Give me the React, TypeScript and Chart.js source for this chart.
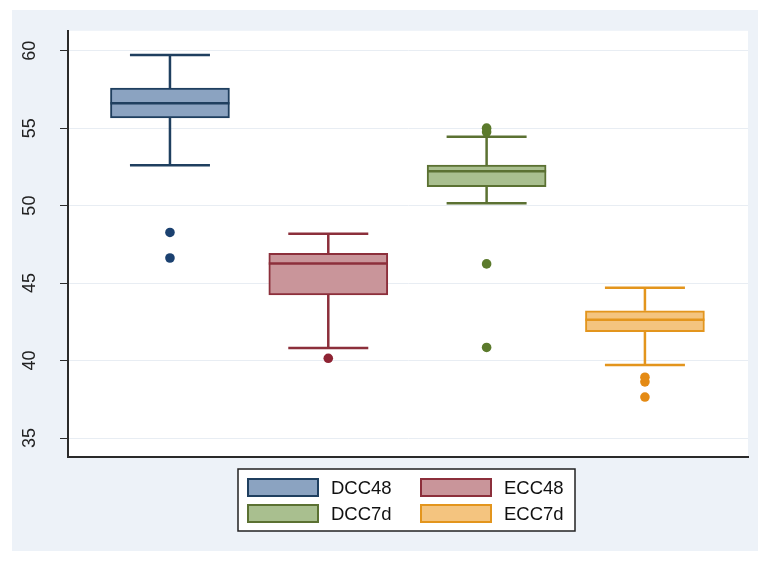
import React, { useEffect, useRef } from "react";
import { Chart, registerables } from "chart.js";

Chart.register(...registerables);

// ---- data ----
const groups = ["DCC48", "ECC48", "DCC7d", "ECC7d"];
const positions = [1, 2, 3, 4];
const lowerWhisker = [52.61, 40.81, 50.15, 39.72];
const q1 = [55.66, 44.23, 51.22, 41.86];
const median = [56.6, 46.26, 52.22, 42.63];
const q3 = [57.58, 46.92, 52.61, 43.21];
const upperWhisker = [59.72, 48.19, 54.44, 44.7];
const outliersDCC48 = [48.27, 46.62];
const outliersECC48 = [40.15];
const outliersDCC7d = [55.0, 54.75, 46.24, 40.85];
const outliersECC7d = [38.93, 38.63, 37.65];
const outliers = [outliersDCC48, outliersECC48, outliersDCC7d, outliersECC7d];
const yTicks = [35, 40, 45, 50, 55, 60];

// ---- styles ----
const fills = ["#8ba3c1", "#c9959a", "#a9bf8f", "#f4c47f"];
const lines = ["#1f3f5f", "#8c2f3b", "#5b7132", "#e3951d"];
const dots = ["#1b4170", "#8e2333", "#5b7a2c", "#e48a14"];
const FONT = "'Liberation Sans', Arial, sans-serif";

const W = 764;
const H = 563;

export default function App() {
  const ref = useRef<HTMLCanvasElement | null>(null);

  useEffect(() => {
    document.body.style.margin = "0";
    const canvas = ref.current;
    if (!canvas) return;

    const bgPlugin = {
      id: "bg",
      beforeDraw(chart: any) {
        const { ctx, chartArea } = chart;
        ctx.save();
        ctx.fillStyle = "#ffffff";
        ctx.fillRect(0, 0, W, H);
        ctx.fillStyle = "#edf2f8";
        ctx.fillRect(12, 10, 746, 541);
        ctx.fillStyle = "#ffffff";
        ctx.fillRect(chartArea.left, chartArea.top, chartArea.right - chartArea.left, chartArea.bottom - chartArea.top);
        ctx.restore();
      },
    };

    const boxPlugin = {
      id: "boxparts",
      beforeDatasetsDraw(chart: any) {
        const { ctx } = chart;
        const xs = chart.scales.x;
        const ys = chart.scales.y;
        const capHalf = 40;
        ctx.save();
        ctx.lineWidth = 2.5;
        ctx.lineCap = "butt";
        groups.forEach((_, i) => {
          const cx = xs.getPixelForValue(positions[i]);
          ctx.strokeStyle = lines[i];
          const yTop = ys.getPixelForValue(upperWhisker[i]);
          const yQ3 = ys.getPixelForValue(q3[i]);
          const yQ1 = ys.getPixelForValue(q1[i]);
          const yBot = ys.getPixelForValue(lowerWhisker[i]);
          ctx.beginPath();
          ctx.moveTo(cx, yQ3);
          ctx.lineTo(cx, yTop);
          ctx.moveTo(cx - capHalf, yTop);
          ctx.lineTo(cx + capHalf, yTop);
          ctx.moveTo(cx, yQ1);
          ctx.lineTo(cx, yBot);
          ctx.moveTo(cx - capHalf, yBot);
          ctx.lineTo(cx + capHalf, yBot);
          ctx.stroke();
        });
        ctx.restore();
      },
      afterDatasetDraw(chart: any, args: any) {
        const i = args.index;
        if (i >= groups.length) return;
        const { ctx } = chart;
        const xs = chart.scales.x;
        const ys = chart.scales.y;
        const el = args.meta.data[0];
        const half = el ? el.width / 2 : 59;
        const cx = xs.getPixelForValue(positions[i]);
        const y = ys.getPixelForValue(median[i]);
        ctx.save();
        ctx.strokeStyle = lines[i];
        ctx.lineWidth = 2.5;
        ctx.beginPath();
        ctx.moveTo(cx - half, y);
        ctx.lineTo(cx + half, y);
        ctx.stroke();
        ctx.restore();
      },
    };

    const legendPlugin = {
      id: "boxlegend",
      afterDraw(chart: any) {
        const { ctx } = chart;
        ctx.save();
        ctx.fillStyle = "#ffffff";
        ctx.fillRect(238, 469, 337, 62);
        ctx.strokeStyle = "#222222";
        ctx.lineWidth = 1.5;
        ctx.strokeRect(238, 469, 337, 62);
        const colX = [247, 420];
        const textX = [331, 504];
        const rowY = [478, 504];
        ctx.font = `18.5px ${FONT}`;
        ctx.textBaseline = "middle";
        ctx.textAlign = "left";
        groups.forEach((g, i) => {
          const c = i % 2;
          const r = Math.floor(i / 2);
          ctx.fillStyle = fills[i];
          ctx.fillRect(colX[c], rowY[r], 72, 19);
          ctx.strokeStyle = lines[i];
          ctx.lineWidth = 2;
          ctx.strokeRect(colX[c] + 1, rowY[r] + 1, 70, 17);
          ctx.fillStyle = "#111111";
          ctx.fillText(g, textX[c], rowY[r] + 10.5);
        });
        ctx.restore();
      },
    };

    const datasets: any[] = [];
    groups.forEach((g, i) => {
      datasets.push({
        type: "bar",
        label: g,
        data: [{ x: positions[i], y: [q1[i], q3[i]] }],
        backgroundColor: fills[i],
        borderColor: lines[i],
        borderWidth: 2,
        borderSkipped: false,
        barThickness: 119,
        grouped: false,
        order: 2,
      });
    });
    groups.forEach((g, i) => {
      datasets.push({
        type: "scatter",
        label: g + " outliers",
        data: outliers[i].map((v) => ({ x: positions[i], y: v })),
        backgroundColor: dots[i],
        borderColor: dots[i],
        borderWidth: 0,
        pointRadius: 4.8,
        showLine: false,
        order: 0,
      });
    });

    const chart = new Chart(canvas, {
      type: "bar",
      data: { datasets },
      options: {
        animation: false,
        responsive: false,
        maintainAspectRatio: false,
        layout: { padding: { top: 28, right: 16, left: 0, bottom: 0 } },
        plugins: { legend: { display: false }, tooltip: { enabled: false } },
        scales: {
          x: {
            type: "linear",
            position: "bottom",
            min: 0.356,
            max: 4.651,
            offset: false,
            ticks: { display: false },
            grid: { display: false },
            border: { display: true, color: "#2a2a2a", width: 2 },
            afterFit(scale: any) {
              scale.height = 106;
            },
          },
          y: {
            type: "linear",
            position: "left",
            min: 33.78,
            max: 61.28,
            afterBuildTicks(scale: any) {
              scale.ticks = yTicks.map((v) => ({ value: v }));
            },
            afterFit(scale: any) {
              scale.width = 68;
            },
            ticks: {
              font: { family: FONT, size: 18 },
              color: "#222222",
              minRotation: 90,
              maxRotation: 90,
              crossAlign: "center",
              padding: 20,
              callback: (v: any) => String(v),
            },
            grid: {
              color: "#e8edf3",
              lineWidth: 1,
              tickColor: "#2a2a2a",
              tickLength: 8,
              drawTicks: true,
            },
            border: { display: true, color: "#2a2a2a", width: 2 },
          },
        },
      },
      plugins: [bgPlugin, boxPlugin, legendPlugin],
    } as any);

    return () => chart.destroy();
  }, []);

  return (
    <div style={{ width: W, height: H }}>
      <canvas ref={ref} width={W} height={H} style={{ display: "block" }} />
    </div>
  );
}
